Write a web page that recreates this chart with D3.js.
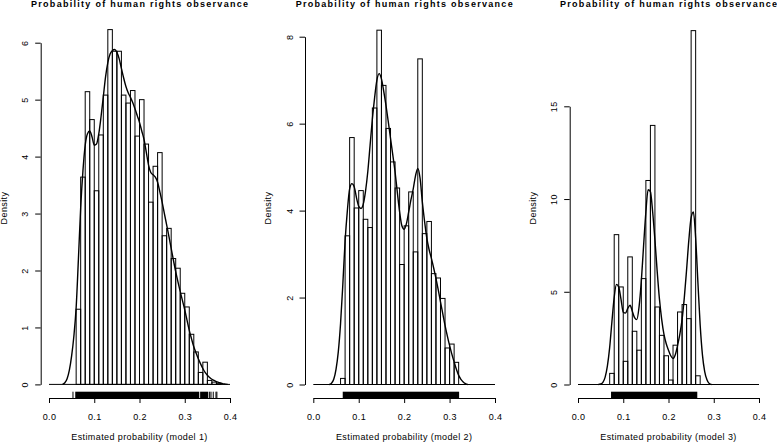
<!DOCTYPE html>
<html><head><meta charset="utf-8">
<script src="https://cdn.jsdelivr.net/npm/d3@7/dist/d3.min.js"></script>
<style>
html,body{margin:0;padding:0;background:#fff;}
svg{display:block;}
text{font-family:"Liberation Sans",Arial,Helvetica,sans-serif;fill:#000;}
</style>
</head><body>
<svg id="chart" width="777" height="442"></svg>
<script>
// ---------------- DATA ----------------
const mainTitle = "Probability of human rights observance";
const xAxisLabels = ["Estimated probability (model 1)", "Estimated probability (model 2)", "Estimated probability (model 3)"];
const yAxisLabel = "Density";
const xTicks = [0.0, 0.1, 0.2, 0.3, 0.4];
const yTicks1 = [0, 1, 2, 3, 4, 5, 6];
const yTicks2 = [0, 2, 4, 6, 8];
const yTicks3 = [0, 5, 10, 15];

// histogram breaks and densities
const breaks1 = [0.06,0.07,0.08,0.09,0.10,0.11,0.12,0.13,0.14,0.15,0.16,0.17,0.18,0.19,0.20,0.21,0.22,0.23,0.24,0.25,0.26,0.27,0.28,0.29,0.30,0.31,0.32,0.33,0.34,0.35,0.36,0.37,0.38];
const heights1 = [1.32,3.64,5.14,4.65,3.40,4.38,5.08,6.23,5.85,5.85,5.08,4.94,5.16,4.36,5.00,4.22,3.20,3.83,4.07,2.61,2.74,2.21,2.04,1.60,1.36,0.88,0.57,0.21,0.39,0.07,0.04,0.02];

const breaks2 = [0.06,0.07,0.08,0.09,0.10,0.11,0.12,0.13,0.14,0.15,0.16,0.17,0.18,0.19,0.20,0.21,0.22,0.23,0.24,0.25,0.26,0.27,0.28,0.29,0.30,0.31,0.32];
const heights2 = [0.14,3.42,5.68,4.06,4.46,3.80,3.61,6.36,8.15,6.88,5.89,5.12,4.52,2.76,3.65,4.43,3.05,7.49,3.47,3.75,2.55,2.45,1.98,0.84,0.93,0.51];

const breaks3 = [0.07,0.08,0.09,0.10,0.11,0.12,0.13,0.14,0.15,0.16,0.17,0.18,0.19,0.20,0.21,0.22,0.23,0.24,0.25,0.26,0.27];
const heights3 = [0.60,8.08,5.26,1.25,6.88,2.87,1.85,5.71,11.0,13.97,4.18,2.65,1.55,0.24,2.12,3.91,4.31,3.55,19.08,0.47];

// kernel density curves
const densX1 = [0.03,0.035,0.04,0.045,0.05,0.055,0.06,0.065,0.07,0.075,0.08,0.085,0.09,0.095,0.10,0.105,0.11,0.115,0.12,0.125,0.13,0.135,0.14,0.145,0.15,0.155,0.16,0.165,0.17,0.175,0.18,0.185,0.19,0.195,0.20,0.205,0.21,0.215,0.22,0.225,0.23,0.235,0.24,0.245,0.25,0.255,0.26,0.265,0.27,0.275,0.28,0.285,0.29,0.295,0.30,0.305,0.31,0.315,0.32,0.325,0.33,0.335,0.34,0.345,0.35,0.355,0.36,0.365,0.37,0.375,0.38,0.385,0.39,0.395];
const densY1 = [0,0.03,0.10,0.25,0.50,0.85,1.35,2.20,3.10,3.75,4.20,4.40,4.45,4.35,4.20,4.22,4.40,4.70,5.05,5.40,5.65,5.80,5.86,5.88,5.83,5.72,5.55,5.38,5.23,5.12,5.04,4.95,4.84,4.72,4.60,4.45,4.30,4.08,3.85,3.72,3.68,3.64,3.55,3.38,3.20,3.00,2.80,2.60,2.39,2.18,1.98,1.80,1.63,1.47,1.31,1.13,0.95,0.80,0.66,0.55,0.45,0.36,0.28,0.21,0.16,0.12,0.09,0.07,0.05,0.035,0.02,0.01,0.005,0];

const densX2 = [0.035,0.04,0.045,0.05,0.055,0.06,0.065,0.07,0.075,0.08,0.085,0.09,0.095,0.10,0.105,0.11,0.115,0.12,0.125,0.13,0.135,0.14,0.145,0.15,0.155,0.16,0.165,0.17,0.175,0.18,0.185,0.19,0.195,0.20,0.205,0.21,0.215,0.22,0.225,0.23,0.235,0.24,0.245,0.25,0.255,0.26,0.265,0.27,0.275,0.28,0.285,0.29,0.295,0.30,0.305,0.31,0.315,0.32,0.325,0.33,0.335,0.34];
const densY2 = [0,0.03,0.12,0.35,0.75,1.40,2.30,3.30,4.00,4.50,4.62,4.55,4.30,4.10,4.05,4.15,4.45,4.90,5.50,6.10,6.60,7.00,7.15,7.03,6.75,6.42,6.05,5.66,5.28,4.89,4.42,3.97,3.65,3.57,3.70,3.97,4.25,4.50,4.80,4.97,4.75,4.20,3.75,3.36,3.10,2.90,2.68,2.44,2.18,1.90,1.63,1.36,1.12,0.90,0.70,0.52,0.35,0.21,0.12,0.06,0.02,0];

const densX3 = [0.045,0.05,0.055,0.06,0.065,0.07,0.075,0.08,0.085,0.09,0.095,0.10,0.105,0.11,0.115,0.12,0.125,0.13,0.135,0.14,0.145,0.15,0.155,0.16,0.165,0.17,0.175,0.18,0.185,0.19,0.195,0.20,0.205,0.21,0.215,0.22,0.225,0.23,0.235,0.24,0.245,0.25,0.255,0.26,0.265,0.27,0.275,0.28,0.285,0.29,0.295];
const densY3 = [0,0.03,0.12,0.40,1.00,2.00,3.40,4.70,5.40,5.25,4.60,3.90,3.85,4.10,4.27,3.95,3.60,3.50,4.20,5.60,7.50,9.30,10.50,10.40,9.30,7.80,6.10,4.60,3.50,2.70,2.20,1.85,1.55,1.40,1.60,2.10,2.70,3.50,4.70,6.20,7.80,9.00,9.30,7.90,5.50,3.20,1.60,0.70,0.25,0.05,0];

// rug: solid runs of observations and isolated observations
const rugRuns1 = [[0.058,0.332],[0.334,0.352]];
const rugTicks1 = [0.053,0.355,0.358,0.363,0.369,0.371];
const rugRuns2 = [[0.0648,0.321]];
const rugTicks2 = [];
const rugRuns3 = [[0.073,0.2636]];
const rugTicks3 = [];

// ---------------- LAYOUT ----------------
const panels = [
  {breaks:breaks1, heights:heights1, dx:densX1, dy:densY1, runs:rugRuns1, ticks:rugTicks1, yTicks:yTicks1, xlab:xAxisLabels[0],
   px0:49, px1:230, pyBase:384.4, pyTop:42.7, axisX:40.7},
  {breaks:breaks2, heights:heights2, dx:densX2, dy:densY2, runs:rugRuns2, ticks:rugTicks2, yTicks:yTicks2, xlab:xAxisLabels[1],
   px0:313.3, px1:495, pyBase:384.5, pyTop:36.7, axisX:305},
  {breaks:breaks3, heights:heights3, dx:densX3, dy:densY3, runs:rugRuns3, ticks:rugTicks3, yTicks:yTicks3, xlab:xAxisLabels[2],
   px0:578, px1:759, pyBase:384.5, pyTop:106.3, axisX:569.7}
];
const xAxisY = 398;
const rugTop = 391.7;
const fs = 9;

const svg = d3.select("#chart");

panels.forEach(p => {
  const yMaxTick = p.yTicks[p.yTicks.length - 1];
  const x = d3.scaleLinear().domain([0, 0.4]).range([p.px0, p.px1]);
  const y = d3.scaleLinear().domain([0, yMaxTick]).range([p.pyBase, p.pyTop]);
  const g = svg.append("g");

  // histogram bars
  g.selectAll("rect.bar").data(p.heights).enter().append("rect")
    .attr("class","bar")
    .attr("x", (d,i) => x(p.breaks[i]))
    .attr("width", (d,i) => x(p.breaks[i+1]) - x(p.breaks[i]))
    .attr("y", d => y(d))
    .attr("height", d => y(0) - y(d))
    .attr("fill","none").attr("stroke","#000").attr("stroke-width",1);

  // baseline at zero
  g.append("line")
    .attr("x1", x(0)).attr("x2", x(0.4)).attr("y1", y(0)).attr("y2", y(0))
    .attr("stroke","#000").attr("stroke-width",1);

  // density curve
  const line = d3.line().x(d => x(d[0])).y(d => y(d[1])).curve(d3.curveMonotoneX);
  g.append("path").datum(p.dx.map((v,i) => [v, p.dy[i]]))
    .attr("d", line).attr("fill","none").attr("stroke","#000").attr("stroke-width",1.4);

  // rug
  g.selectAll("rect.rug").data(p.runs).enter().append("rect")
    .attr("class","rug")
    .attr("x", d => x(d[0])).attr("width", d => x(d[1]) - x(d[0]))
    .attr("y", rugTop).attr("height", xAxisY - rugTop).attr("fill","#000");
  g.selectAll("line.rug").data(p.ticks).enter().append("line")
    .attr("class","rug")
    .attr("x1", d => x(d)).attr("x2", d => x(d)).attr("y1", rugTop).attr("y2", xAxisY)
    .attr("stroke","#000").attr("stroke-width",1);

  // x axis
  const gx = g.append("g").attr("transform", `translate(0,${xAxisY})`)
    .call(d3.axisBottom(x).tickValues(xTicks).tickFormat(d3.format(".1f")).tickSize(5).tickSizeOuter(0).tickPadding(10.3));
  gx.selectAll("text").attr("font-size", fs).style("letter-spacing","0.4px").attr("font-family", null);
  gx.attr("font-family", null);

  // y axis
  const gy = g.append("g").attr("transform", `translate(${p.axisX},0)`)
    .call(d3.axisLeft(y).tickValues(p.yTicks).tickFormat(d3.format("d")).tickSize(5.5).tickSizeOuter(0));
  gy.attr("font-family", null);
  gy.selectAll("text")
    .attr("transform","rotate(-90)")
    .attr("x", 0).attr("y", -12.5).attr("dy", null)
    .attr("text-anchor","middle")
    .attr("font-size", fs).style("letter-spacing","0.4px");

  // axis title (y)
  g.append("text")
    .attr("transform","rotate(-90)")
    .attr("x", -208).attr("y", p.axisX - 34)
    .attr("text-anchor","middle").attr("font-size", fs).style("letter-spacing","0.4px")
    .text(yAxisLabel);

  // axis title (x)
  g.append("text")
    .attr("x", x(0.2)).attr("y", 440)
    .attr("text-anchor","middle").attr("font-size", fs).style("letter-spacing","0.4px")
    .text(p.xlab);

  // main title
  g.append("text")
    .attr("x", x(0.2)).attr("y", 7.4)
    .attr("text-anchor","middle").attr("font-size", 9).attr("font-weight","bold")
    .attr("textLength", 217).attr("lengthAdjust","spacing")
    .text(mainTitle);
});
</script>
</body></html>
